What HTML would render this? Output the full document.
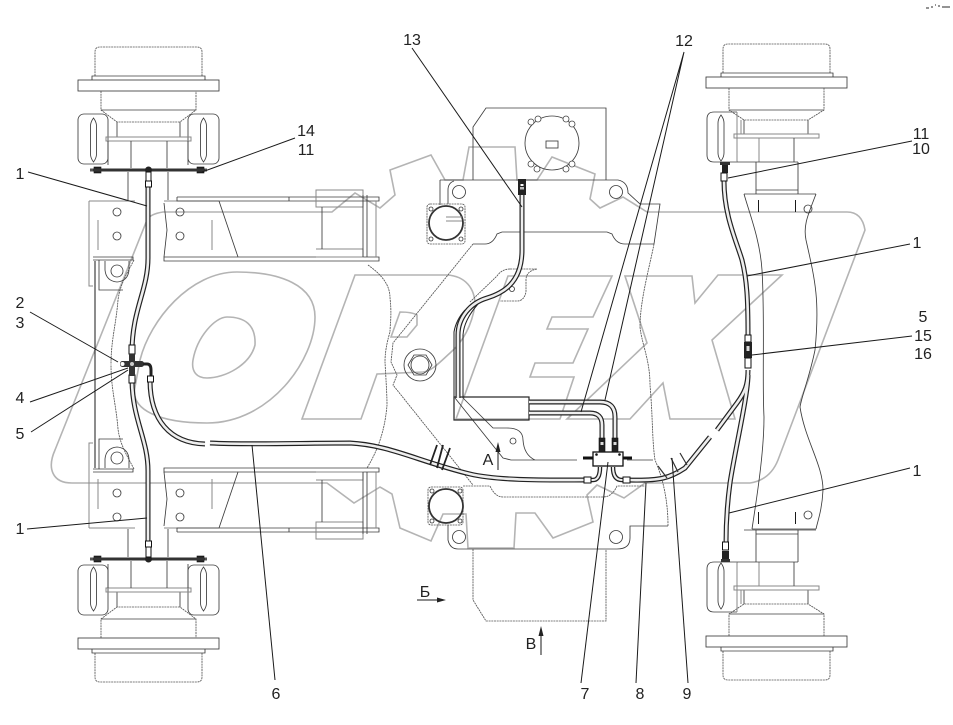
<!DOCTYPE html>
<html><head><meta charset="utf-8"><style>
html,body{margin:0;padding:0;background:#fff}
svg{display:block}
.wm{fill:none;stroke:#b4b4b4;stroke-width:1.6}
.l{fill:none;stroke:#3c3c3c;stroke-width:.85}
.d{fill:none;stroke:#555;stroke-width:.85;stroke-dasharray:2 .7}
.g{fill:none;stroke:#888;stroke-width:1}
.k{fill:none;stroke:#1a1a1a;stroke-width:1}
.w{fill:#fff;stroke:#444;stroke-width:.8}
.ha{fill:none;stroke:#222;stroke-width:5}
.hb{fill:none;stroke:#eee;stroke-width:2.6}
.f{fill:#fff;stroke:#111;stroke-width:1}
.b{fill:#222;stroke:#111;stroke-width:.6}
text{font-family:"Liberation Sans",sans-serif;font-size:16px;fill:#222;text-anchor:middle}
</style></head><body>
<svg width="953" height="725" viewBox="0 0 953 725" xmlns="http://www.w3.org/2000/svg">
<defs>
<g id="LW">
 <path class="d" d="M95 76V52q0-5 5-5h97q5 0 5 5v24"/>
 <path class="l" d="M92 80V76H205V80"/>
 <rect class="l" x="78" y="80" width="141" height="11"/>
 <path class="d" d="M101 91V110L117 122H180L196 110V91"/>
 <path class="l" d="M101 110H196M117 122V137M180 122V137"/>
 <rect class="l" x="78" y="114" width="30" height="50" rx="6"/>
 <rect class="l" x="188" y="114" width="31" height="50" rx="6"/>
 <path class="l" d="M93.500 118q-3 4-3 8v28q0 4 3 8q3-4 3-8v-28q0-4-3-8zM203.500 118q-3 4-3 8v28q0 4 3 8q3-4 3-8v-28q0-4-3-8z"/>
 <rect class="g" x="106" y="137" width="85" height="4"/>
 <path class="l" d="M131 141V168M167 141V168M108 141V165M188 141V165"/>
 <rect x="90" y="168.500" width="117" height="3" fill="#555"/>
 <rect class="b" x="94" y="167" width="7" height="6"/><rect class="b" x="197" y="167" width="7" height="6"/>
 <path class="l" d="M128 172V200M168 172V200"/>
 <path class="g" d="M89 201H135M89 201V286H93"/>
 <path class="l" d="M164 203L167 230L164 257"/>
 <path class="g" d="M164 201H219"/>
 <circle class="l" cx="117" cy="212" r="4"/><circle class="l" cx="117" cy="236" r="4"/>
 <circle class="l" cx="180" cy="212" r="4"/><circle class="l" cx="180" cy="236" r="4"/>
 <path class="g" d="M98 220V250M212 220V250"/>
 <path class="l" d="M219 201L238 257"/>
 <path class="l" d="M177 197H379V201H177V197M289 197V201"/>
 <path class="l" d="M93 257H133V260H93M164 257H379V261H164Z"/>
 <path class="g" d="M316 190H363V207H316ZM316 249H363V257H316"/>
 <path class="l" d="M322 207V249M363 195V257M367 195V257"/>
 <path class="g" d="M376 201V257"/>
 <path class="k" d="M95 261V364.500" stroke-width="1.8"/>
 <path class="l" d="M99 260V290H123M105 261V270Q106 281 117 282Q128 281 129 270V261"/>
 <circle class="l" cx="117" cy="271" r="6"/>
 <path class="d" d="M134 260C126 275 120 285 118 300C116 325 111 340 111 364.500"/>
</g>
<g id="RW">
 <path class="d" d="M723 73V49q0-5 5-5h97q5 0 5 5v24"/>
 <path class="l" d="M721 77V73H833V77"/>
 <rect class="l" x="706" y="77" width="141" height="11"/>
 <path class="d" d="M729 88V110L744 120H808L824 110V88"/>
 <path class="l" d="M729 110H824M744 120V134M808 120V134"/>
 <path class="l" d="M737 112H714q-7 0-7 7v36q0 7 7 7H737"/>
 <path class="l" d="M721 115q-3 4-3 8v30q0 4 3 8q3-4 3-8v-30q0-4-3-8z"/>
 <path class="g" d="M737 112V162M741 120V134"/>
 <rect class="g" x="734" y="134" width="85" height="4"/>
 <path class="g" d="M759 138V162"/><path class="l" d="M794 138V162M737 162H798"/>
 <path class="l" d="M756 162V194M798 162V194M756 190H798"/>
 <path class="l" d="M744 194H816"/>
 <path class="k" d="M758.500 200V212M795.500 200V212"/>
 <circle class="l" cx="808" cy="209" r="4"/>
</g>
<path id="h1" d="M148 186V258C148 290 132 310 132 352"/>
<path id="h2" d="M148 543V471C148 439 132 419 132 379"/>
<path id="h3" d="M150 380C150 420 170 443 205 444"/>
<path id="h4" d="M210 443C250 445 300 443 350 443C390 445 420 462 470 474C500 481 550 480 586 480"/>
<path id="h5" d="M628 480C660 481 670 478 685 468L710 437"/>
<path id="h6" d="M717 430L737 403C745 392 748 385 748 370"/>
<path id="h7" d="M748 375C748 395 735 450 730 483C727 505 726 525 726 544"/>
<path id="h8" d="M724 181C724 215 736 240 742 260C747 280 748 300 748 335"/>
<path id="h9" d="M522 195V250C522 285 500 294 487 298C470 303 458 318 458 335V398"/>
<path id="h10" d="M529 402H600Q615 402 615 417V438"/>
<path id="h11" d="M529 413H590Q602 413 602 425V438"/>
</defs>

<!-- OREX watermark -->
<path class="wm" d="M163 212Q150 214 147 220L55 450C47 468 52 483 72 483H327L354 503L380 487L392 494L400 528L431 541L443 514H466L468 548H514L516 513H535L553 538L593 522L587 495L597 485L624 498L645 483H750Q770 480 778 460L865 230Q862 212 847 212H647L623 197L600 208L590 199L595 174L552 157L537 180H517L515 147H469L463 180H445L431 155L390 170L395 195L380 208L355 193L332 212Z"/>
<path class="wm" d="M140 360C150 320 190 272 237 272C280 272 315 285 315 317C315 360 270 423 207 423C160 423 130 410 135 387Z"/>
<path class="wm" d="M193 360C197 337 215 317 227 317C245 317 256 325 255 345C250 365 225 378 207 378C197 378 191 372 193 360Z"/>
<path class="wm" d="M355 275H447C465 276 475 288 475 305C472 325 463 342 450 353C440 362 432 371 423 372L377 374L361 419H302Z"/>
<path class="wm" d="M400 312Q412 312 417 315V325L407 337H391Z"/>
<path class="wm" d="M508 276H612L593 317H552L547 329H588L573 363H535L530 377H574L560 419H456Z"/>
<path class="wm" d="M625 276H692L695 303L718 275H782L712 340L735 419H670L663 383L630 419H567L647 343Z"/>

<!-- left axle assemblies -->
<use href="#LW"/>
<use href="#LW" transform="matrix(1 0 0 -1 0 729)"/>
<path class="d" d="M368 265C382 275 390 285 390 298C392 315 390 325 390 332C386 345 385 355 385 362C386 380 387 395 387 405C385 430 378 450 367 468"/>
<!-- right axle assemblies -->
<use href="#RW"/>
<use href="#RW" transform="matrix(1 0 0 -1 0 724)"/>
<path class="l" d="M744 194C750 215 760 240 762 270C765 320 762 380 764 417C764 450 758 490 752 529M816 194C808 215 803 225 806 240C815 280 820 300 815 350C810 375 802 395 800 407C805 440 823 465 823 490C822 510 818 520 816 529M752 529H816"/>
<path class="l" d="M473 180V127L486 108H606V180"/>
<path class="l" d="M440 180H618Q628 182 628 193L640 204H660L654 244H625Q616 244 612 234L607 232H502L497 234Q493 244 485 244H473M440 180V205"/>
<path class="l" d="M454 181Q448 183 448 190V204"/>
<path class="d" d="M473 244L393 343L391 362L397 375L393 385L473 485"/>
<circle class="l" cx="552" cy="143" r="27"/>
<g class="l"><circle class="w" cx="531" cy="122" r="3"/><circle class="w" cx="538" cy="119" r="3"/><circle class="w" cx="566" cy="119" r="3"/><circle class="w" cx="572" cy="124" r="3"/><circle class="w" cx="531" cy="164" r="3"/><circle class="w" cx="537" cy="169" r="3"/><circle class="w" cx="566" cy="169" r="3"/><circle class="w" cx="572" cy="164" r="3"/></g>
<rect class="l" x="546" y="141" width="12" height="7"/>
<circle class="l" cx="459" cy="192" r="6.500"/><circle class="l" cx="616" cy="192" r="6.500"/>
<rect class="d" x="427" y="204" width="38" height="40" rx="3"/>
<circle cx="446" cy="223" r="17" fill="none" stroke="#333" stroke-width="1.8"/>
<circle class="l" cx="431" cy="209" r="2"/><circle class="l" cx="461" cy="209" r="2"/><circle class="l" cx="431" cy="239" r="2"/><circle class="l" cx="461" cy="239" r="2"/>
<path class="g" d="M446 217H462M446 221H462"/>
<path class="d" d="M640 327C642 345 650 360 650 385C653 420 652 440 655 460Q668 490 668 526"/>
<path class="d" d="M654 244C650 265 640 300 640 327"/>
<circle class="l" cx="420" cy="365" r="16"/>
<path class="l" d="M432 365L426 375H414L408 365L414 355H426Z"/><circle class="l" cx="420" cy="365" r="9"/>
<path class="d" d="M510 269H537Q526 271 526 280V292Q524 301 517 301H500M510 269Q502 269 497 276L470 302"/>
<circle class="l" cx="512" cy="289" r="2.500"/>
<!-- lower frame -->
<path class="l" d="M455 398L503 458L511 460H577M463 398L493 428H507Q523 428 523 440Q524 455 535 460M627 460H653"/>
<circle class="l" cx="513" cy="441" r="3"/>
<path class="d" d="M463 486H490Q495 497 503 497H603Q612 497 617 486H645"/>
<rect class="d" x="428" y="487" width="35" height="38" rx="3"/>
<circle cx="446" cy="506" r="17" fill="none" stroke="#333" stroke-width="1.8"/>
<circle class="l" cx="432" cy="491" r="2"/><circle class="l" cx="460" cy="491" r="2"/><circle class="l" cx="432" cy="521" r="2"/><circle class="l" cx="460" cy="521" r="2"/>
<path class="l" d="M448 525V540Q450 549 458 549H617Q630 549 630 538V526H668"/>
<circle class="l" cx="459" cy="537" r="6.500"/><circle class="l" cx="616" cy="537" r="6.500"/>
<path class="d" d="M473 549V600L486 621H606V549"/>

<!-- box for tubes -->
<rect x="454" y="397" width="75" height="23" fill="none" stroke="#222" stroke-width="1.2"/>

<!-- hoses -->
<g class="ha"><use href="#h1"/><use href="#h2"/><use href="#h3"/><use href="#h4"/><use href="#h5"/><use href="#h6"/><use href="#h7"/><use href="#h8"/><use href="#h9"/><use href="#h10"/><use href="#h11"/></g>
<g class="hb"><use href="#h1"/><use href="#h2"/><use href="#h3"/><use href="#h4"/><use href="#h5"/><use href="#h6"/><use href="#h7"/><use href="#h8"/><use href="#h9"/><use href="#h10"/><use href="#h11"/></g>
<path d="M454 397V332Q456 320 465 310M463 398V335Q464 320 478 304" fill="none" stroke="#222" stroke-width="1"/>

<!-- fittings: left tee, ends -->
<rect x="93" y="168.500" width="112" height="3" fill="#333"/>
<circle cx="148.500" cy="170" r="3.500" fill="#222"/>
<rect class="f" x="146" y="172" width="5" height="10"/><rect class="f" x="145.500" y="181" width="6" height="6"/>
<rect x="93" y="557.500" width="112" height="3" fill="#333"/>
<circle cx="148.500" cy="559" r="3.500" fill="#222"/>
<rect class="f" x="146" y="547" width="5" height="10"/><rect class="f" x="145.500" y="541" width="6" height="6"/>
<!-- left cross -->
<rect class="f" x="129" y="345" width="6" height="9"/>
<rect class="f" x="129" y="375" width="6" height="8"/>
<rect x="129" y="354" width="6" height="22" fill="#333"/>
<rect x="120" y="361" width="24" height="6" fill="#333" rx="2.500"/>
<circle cx="122.500" cy="364" r="2" fill="#fff"/><circle cx="132" cy="364" r="2" fill="#ccc"/>
<path d="M143 364H147Q151 364 151 370V376" fill="none" stroke="#222" stroke-width="3"/>
<rect class="f" x="147.500" y="376" width="6" height="6"/>
<!-- valve block -->
<rect x="593" y="452" width="30" height="14" fill="#fff" stroke="#111" stroke-width="1.3"/>
<circle cx="596.500" cy="454.500" r="1.300" fill="#111"/><circle cx="619.500" cy="454.500" r="1.300" fill="#111"/>
<rect class="b" x="599" y="438" width="6" height="14"/><rect class="b" x="612" y="438" width="6" height="14"/>
<rect x="600.500" y="442" width="3" height="3" fill="#ddd"/><rect x="613.500" y="442" width="3" height="3" fill="#ddd"/>
<path d="M583 458H593M623 458H632" stroke="#111" stroke-width="3"/>
<path d="M600 467Q600 480 593 480H590M613 467Q613 480 622 480H626" fill="none" stroke="#222" stroke-width="4.500"/>
<path d="M600 467Q600 480 593 480H590M613 467Q613 480 622 480H626" fill="none" stroke="#eee" stroke-width="2"/>
<rect class="f" x="584" y="477" width="7" height="6"/><rect class="f" x="623" y="477" width="7" height="6"/>
<!-- upper hose fitting -->
<rect x="518" y="179" width="8" height="16" fill="#222"/><rect x="520.500" y="184" width="3" height="2" fill="#fff"/><rect x="520" y="187" width="4" height="2.500" fill="#bbb"/>
<!-- right fittings -->
<rect x="722" y="165" width="6" height="8" fill="#222"/><rect class="f" x="721" y="173" width="6" height="8"/>
<rect x="722" y="551" width="7" height="8" fill="#222"/><rect class="f" x="722.500" y="542" width="6" height="8"/>
<rect x="721" y="559" width="9" height="3" fill="#333"/><rect x="720" y="162" width="10" height="3" fill="#333"/>
<rect class="f" x="745" y="335" width="6" height="7"/><rect x="744" y="342" width="8" height="16" fill="#222"/><rect x="746.500" y="346" width="3" height="5" fill="#ddd"/><rect class="f" x="745" y="358" width="6" height="10"/>
<!-- cross marks -->
<path d="M437 445L430 465M443 445L437 468M450 448L442 470" stroke="#222" stroke-width="1.800"/>
<path d="M658 466L667 478M671 458L678 472M680 453L687 465" stroke="#333" stroke-width="1.200"/>

<!-- leaders -->
<g class="k">
<path d="M412 48L522 207"/>
<path d="M684 52L581 412M684 52L605 400"/>
<path d="M295 138L202 172"/>
<path d="M28 172L147 206"/>
<path d="M30 312L118 362"/>
<path d="M30 402L128 368"/>
<path d="M31 432L128 370"/>
<path d="M27 529L147 518"/>
<path d="M275 680L252 445"/>
<path d="M581 683L608 462"/>
<path d="M636 683L646 483"/>
<path d="M688 683L672 458"/>
<path d="M912 141L728 178"/>
<path d="M910 244L747 276"/>
<path d="M912 336L752 355"/>
<path d="M910 468L729 513"/>
</g>
<!-- arrows -->
<path class="k" d="M498 446V470M417 600H440M541 630V655"/>
<path d="M498 442L495.500 452H500.500ZM446 600L437 597.500V602.500ZM541 626L538.500 636H543.500Z" fill="#222"/>

<!-- labels -->
<text x="412" y="45">13</text><text x="684" y="46">12</text>
<text x="306" y="136">14</text><text x="306" y="155">11</text>
<text x="20" y="179">1</text><text x="20" y="308">2</text><text x="20" y="328">3</text>
<text x="20" y="403">4</text><text x="20" y="439">5</text><text x="20" y="534">1</text>
<text x="276" y="699">6</text><text x="585" y="699">7</text><text x="640" y="699">8</text><text x="687" y="699">9</text>
<text x="921" y="139">11</text><text x="921" y="154">10</text><text x="917" y="248">1</text>
<text x="923" y="322">5</text><text x="923" y="341">15</text><text x="923" y="359">16</text><text x="917" y="476">1</text>
<text x="488" y="465">А</text><text x="425" y="597">Б</text><text x="531" y="649">В</text>
<path d="M926 8h3M931 7h2M935 5h1M938 6h2M942 7h8" stroke="#555" stroke-width="1.200"/>
</svg>
</body></html>
